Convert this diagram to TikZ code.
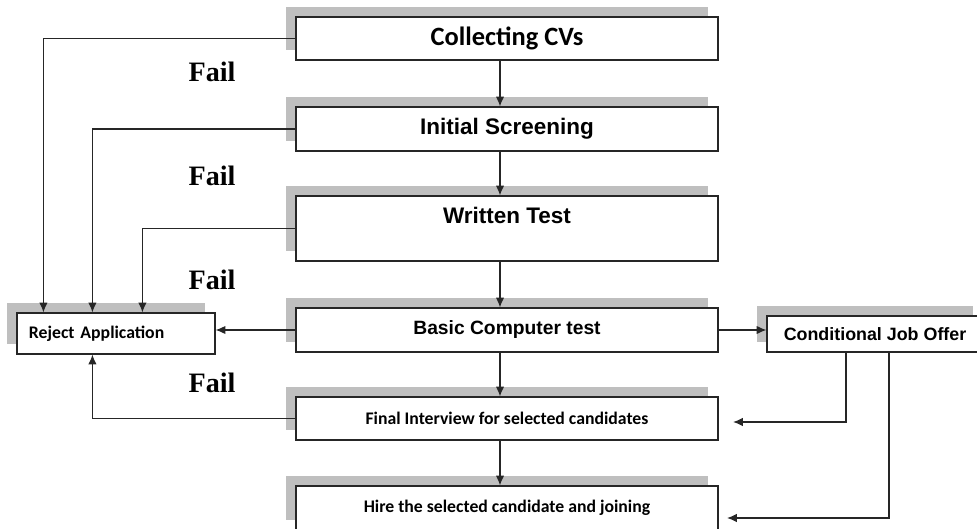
\documentclass[tikz,border=0pt]{standalone}
\usepackage{fontspec}
\newfontfamily\arialfont{Liberation Sans}
\newfontfamily\calfont{Carlito}
\newfontfamily\timesfont{Liberation Serif}
\usetikzlibrary{arrows.meta}
\usetikzlibrary{shapes.geometric, shadows}

\begin{document}
\begin{tikzpicture}
\tikzstyle{stage} = [rectangle, minimum width=10.55cm, minimum height=1.1cm, text centered, draw=black!85, line width=0.8pt, fill=white, drop shadow={shadow xshift=-0.25cm, shadow yshift=0.24cm, fill=black!25, opacity=1}]
\tikzstyle{side} = [rectangle, draw=black!85, line width=0.8pt, fill=white, drop shadow={shadow xshift=-0.25cm, shadow yshift=0.24cm, fill=black!25, opacity=1}]
\tikzstyle{calibri} = [font=\calfont\bfseries\fontsize{12.6}{15}\selectfont]
\tikzstyle{arial} = [font=\arialfont\bfseries\fontsize{16}{19}\selectfont]
\tikzstyle{fail} = [font=\timesfont\bfseries\fontsize{20}{24}\selectfont]
\tikzstyle{arrow} = [line width=0.85pt, draw=black!85, ->, >={Latex[length=7pt,width=6pt]}]

\clip (0,0) rectangle (24.425,-13.225);

\node [stage, calibri, minimum height=1.075cm, font=\calfont\bfseries\fontsize{18.8}{22}\selectfont] (v1) at (12.675,-0.9625) {Collecting CVs};
\node [stage, arial] (v2) at (12.675,-3.225) {Initial Screening};
\node [stage, arial, minimum height=1.625cm, align=center] (v3) at (12.675,-5.7125) {Written Test\\~};
\node [stage, arial, font=\arialfont\bfseries\fontsize{13.7}{16}\selectfont] (v4) at (12.675,-8.25) {Basic Computer test};
\node [stage, calibri, minimum height=1.075cm] (v5) at (12.675,-10.4625) {Final Interview for selected candidates};
\node [stage, calibri] (v6) at (12.675,-12.7) {Hire the selected candidate and joining};

\node [side, calibri, minimum width=4.95cm, minimum height=1.025cm, text width=4.35cm, align=left] (v7) at (2.9,-8.3375) {Reject Application};
\node [side, arial, minimum width=5.4cm, minimum height=0.9cm, font=\arialfont\bfseries\fontsize{12.7}{15}\selectfont] (v8) at (21.875,-8.35) {Conditional Job Offer};

\coordinate (spine) at (12.5,0);
\draw [arrow] (v1.south -| spine) -- (v2.north -| spine);
\draw [arrow] (v2.south -| spine) -- (v3.north -| spine);
\draw [arrow] (v3.south -| spine) -- (v4.north -| spine);
\draw [arrow] (v4.south -| spine) -- (v5.north -| spine);
\draw [arrow] (v5.south -| spine) -- (v6.north -| spine);

\draw [arrow] (v1.west) -| ([xshift=0.675cm]v7.north west);
\draw [arrow] (v2.west) -| ([xshift=1.9cm]v7.north west);
\draw [arrow] (v3.west) -| ([xshift=3.15cm]v7.north west);
\draw [arrow] (v4.west) -- (v4.west -| v7.east);
\draw [arrow] (v5.west) -| ([xshift=1.9cm]v7.south west);

\draw [arrow] (v4.east) -- (v4.east -| v8.west);
\coordinate (v9) at (18.325,-10.55);
\coordinate (v10) at (18.175,-12.95);
\draw [arrow] ([xshift=-0.725cm]v8.south) |- (v9);
\draw [arrow] ([xshift=0.35cm]v8.south) |- (v10);

\node [fail] at (5.3,-1.8) {Fail};
\node [fail] at (5.3,-4.4) {Fail};
\node [fail] at (5.3,-7.0) {Fail};
\node [fail] at (5.3,-9.575) {Fail};
\end{tikzpicture}
\end{document}
